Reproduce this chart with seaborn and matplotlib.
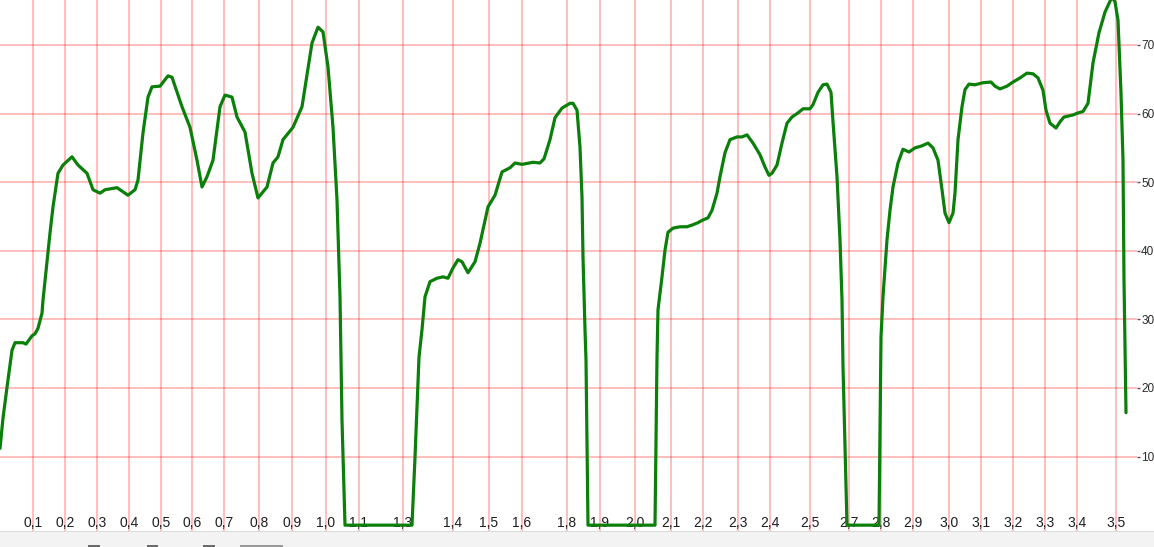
import matplotlib
matplotlib.use("Agg")
import matplotlib.pyplot as plt
from matplotlib.patches import Rectangle
import seaborn as sns
import pandas as pd

# ---- data -------------------------------------------------------------
# elapsed time (arbitrary units) and recorded value
time_s = [
    0.0, 0.3, 0.7, 1.2, 1.5, 2.3, 2.6, 3.2, 3.5, 3.8, 4.2, 4.3, 5.0, 5.3, 5.8, 6.3,
    7.2, 7.8, 8.7, 9.3, 10.0, 10.5, 11.7, 12.8, 13.5, 13.8, 14.3, 14.8, 15.2, 16.0,
    16.8, 17.2, 18.2, 19.0, 19.7, 20.2, 20.7, 21.3, 22.0, 22.5, 23.2, 23.7, 24.5,
    25.2, 25.8, 26.7, 27.3, 27.8, 28.3, 29.3, 30.2, 31.2, 31.8, 32.3, 32.8, 33.3,
    33.7, 34.0, 34.2, 34.5, 41.2, 41.5, 41.9, 42.2, 42.5, 43.0, 43.7, 44.3, 44.8,
    45.3, 45.8, 46.2, 46.8, 47.5, 48.0, 48.8, 49.5, 50.2, 51.0, 51.5, 52.2, 53.3,
    54.0, 54.4, 55.0, 55.5, 56.2, 57.0, 57.3, 57.7, 58.0, 58.2, 58.3, 58.5, 58.6,
    58.8, 65.5, 65.7, 65.8, 66.2, 66.5, 66.8, 67.3, 68.0, 68.7, 69.3, 69.8, 70.3,
    70.8, 71.2, 71.7, 72.0, 72.5, 73.0, 73.7, 74.2, 74.7, 75.3, 76.0, 76.5, 76.9,
    77.2, 77.7, 78.2, 78.7, 79.2, 79.8, 80.3, 81.0, 81.3, 81.8, 82.3, 82.7, 83.1,
    83.3, 83.7, 84.0, 84.2, 84.3, 84.7, 87.9, 88.1, 88.3, 88.7, 89.0, 89.3, 89.8,
    90.3, 90.9, 91.5, 92.2, 92.8, 93.3, 93.8, 94.2, 94.5, 94.9, 95.3, 95.5, 95.8,
    96.2, 96.5, 96.9, 97.5, 98.3, 99.1, 99.5, 100.0, 100.7, 101.3, 102.0, 102.7,
    103.3, 103.8, 104.3, 104.6, 105.0, 105.6, 106.0, 106.4, 107.3, 107.8, 108.3,
    108.8, 109.3, 109.9, 110.5, 111.2, 111.5, 111.8, 112.1, 112.3, 112.4, 112.6,
]
value = [
    11.2, 15.6, 20.1, 25.5, 26.6, 26.6, 26.4, 27.6, 27.9, 28.7, 30.9, 32.8, 42.6,
    46.4, 51.3, 52.5, 53.7, 52.5, 51.3, 48.9, 48.4, 48.9, 49.2, 48.1, 48.9, 50.3,
    57.2, 62.4, 63.9, 64.0, 65.5, 65.3, 61.0, 58.0, 53.2, 49.3, 50.8, 53.2, 61.0,
    62.7, 62.4, 59.5, 57.3, 51.3, 47.7, 49.3, 52.8, 53.7, 56.2, 58.0, 61.0, 70.3,
    72.6, 71.9, 66.8, 58.0, 47.4, 33.3, 15.3, 0.0, 0.0, 9.9, 24.5, 28.5, 33.3, 35.5,
    36.0, 36.2, 36.0, 37.5, 38.7, 38.4, 36.8, 38.4, 41.1, 46.4, 48.1, 51.5, 52.1,
    52.8, 52.6, 52.9, 52.8, 53.4, 56.2, 59.4, 60.8, 61.5, 61.5, 60.5, 55.1, 47.8,
    39.1, 28.5, 24.1, 0.0, 0.0, 24.5, 31.4, 36.2, 40.1, 42.7, 43.3, 43.5, 43.5, 43.8,
    44.1, 44.5, 44.8, 45.9, 48.4, 50.8, 54.3, 56.2, 56.6, 56.6, 56.9, 55.7, 54.0,
    52.2, 51.0, 51.3, 52.5, 55.7, 58.6, 59.5, 60.1, 60.7, 60.7, 61.3, 63.1, 64.2,
    64.3, 63.1, 58.8, 50.8, 41.6, 32.8, 23.1, 0.0, 0.0, 27.4, 33.3, 41.6, 45.9, 49.3,
    52.8, 54.8, 54.4, 55.0, 55.3, 55.7, 55.0, 53.2, 48.9, 45.5, 44.1, 45.5, 48.4,
    56.2, 61.0, 63.5, 64.3, 64.2, 64.5, 64.6, 64.0, 63.6, 64.0, 64.6, 65.2, 65.9,
    65.8, 65.2, 63.4, 60.5, 58.6, 57.9, 58.8, 59.5, 59.8, 60.1, 60.3, 61.5, 67.4,
    71.8, 74.8, 77.0, 76.3, 73.6, 63.0, 53.2, 35.7, 16.4,
]
# distance labels placed at the times they were reached
tick_time = [3.3, 6.5, 9.7, 12.9, 16.1, 19.2, 22.4, 25.9, 29.2, 32.6, 35.9, 40.3,
             45.3, 48.9, 52.2, 56.7, 60.0, 63.5, 67.1, 70.3, 73.8, 77.0, 81.0,
             84.9, 88.1, 91.3, 94.9, 98.1, 101.3, 104.5, 107.7, 111.6]
tick_labels = ["0,1", "0,2", "0,3", "0,4", "0,5", "0,6", "0,7", "0,8", "0,9",
               "1,0", "1,1", "1,3", "1,4", "1,5", "1,6", "1,8", "1,9", "2,0",
               "2,1", "2,2", "2,3", "2,4", "2,5", "2,7", "2,8", "2,9", "3,0",
               "3,1", "3,2", "3,3", "3,4", "3,5"]
y_ticks = [10, 20, 30, 40, 50, 60, 70]

df = pd.DataFrame({"time": time_s, "value": value})

# ---- figure -----------------------------------------------------------
sns.set_style("white")
plt.rcParams["font.family"] = ["Liberation Sans", "DejaVu Sans"]

W, H = 1154, 547
fig = plt.figure(figsize=(W / 100, H / 100), dpi=100)
fig.patch.set_facecolor("white")

# bottom UI strip
fig.patches.append(Rectangle((0, 0), 1, 15 / H, transform=fig.transFigure,
                             facecolor="#f3f3f3", edgecolor="none", zorder=0))
fig.patches.append(Rectangle((0, 15 / H), 1, 1.2 / H, transform=fig.transFigure,
                             facecolor="#d9d9d9", edgecolor="none", zorder=0))
for x0, w, c in [(88, 12, "#6a6a6a"), (147, 11, "#6a6a6a"), (203, 12, "#6a6a6a"),
                 (240, 43, "#9a9a9a")]:
    fig.patches.append(Rectangle((x0 / W, 0), w / W, 2 / H, transform=fig.transFigure,
                                 facecolor=c, edgecolor="none", zorder=1))

ax = fig.add_axes([0, 16 / H, 1137 / W, 531 / H])
ax.set_facecolor("white")

sns.lineplot(data=df, x="time", y="value", ax=ax, color="#0a800a",
             linewidth=2.3, sort=False, estimator=None, zorder=3)

ax.set_xlim(0, 113.7)
ax.set_ylim(-0.85, 76.56)

ax.set_xticks(tick_time)
ax.set_xticklabels(tick_labels)
ax.set_yticks(y_ticks)
ax.yaxis.tick_right()

ax.grid(True, color="#ff0000", alpha=0.28, linewidth=1.3)
ax.set_axisbelow(True)

ax.tick_params(axis="x", length=0, pad=-10.5, labelsize=10, labelcolor="#1e1e1e")
ax.tick_params(axis="y", direction="out", length=2.5, width=1, color="#555555",
               pad=0.5, labelsize=8.5, labelcolor="#2a2a2a")

for s in ax.spines.values():
    s.set_visible(False)

ax.set_xlabel("")
ax.set_ylabel("")

fig.savefig("out.png", dpi=100)
